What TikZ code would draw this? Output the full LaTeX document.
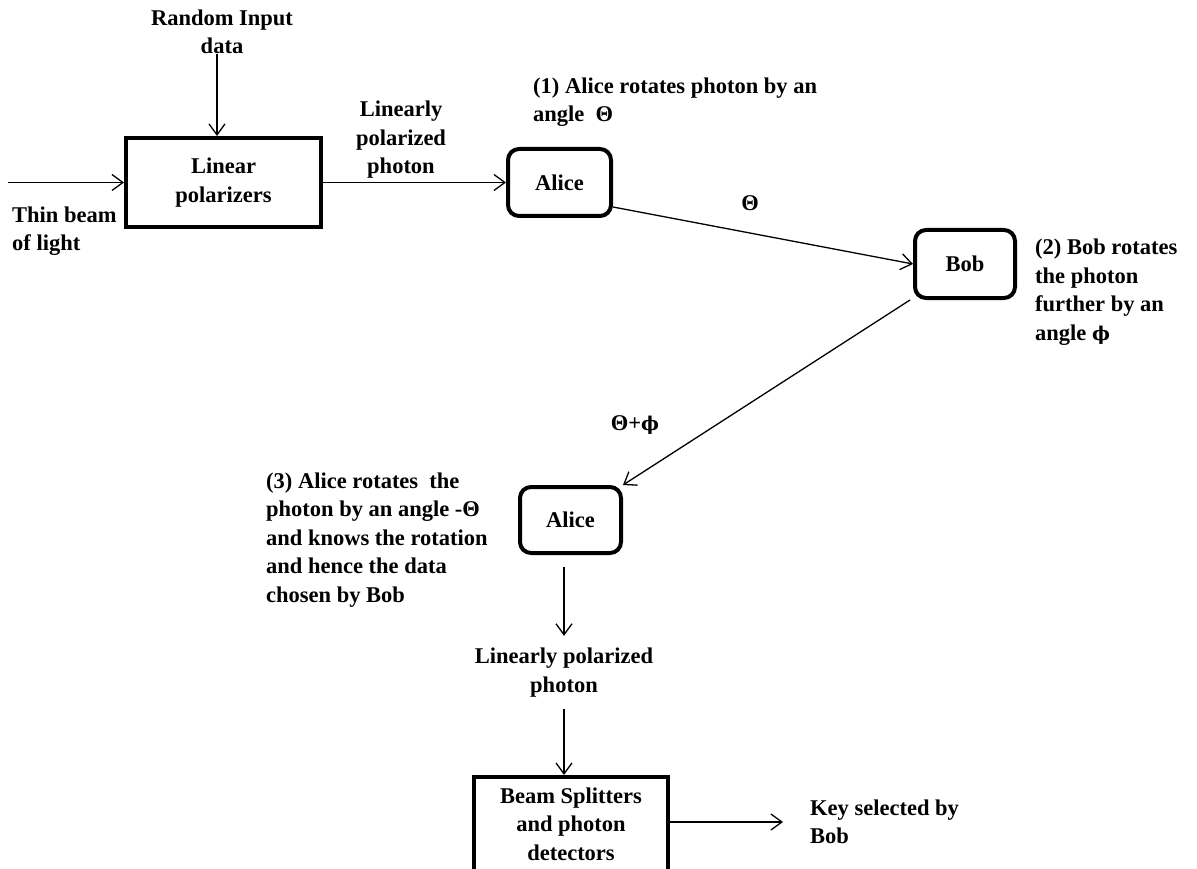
\documentclass[tikz,border=0pt]{standalone}
\usepackage{fontspec}
\setmainfont{Liberation Serif}
\newfontfamily\grkfont{DejaVu Serif}
\newcommand{\phisym}{{\grkfont\fontsize{19}{28.5}\selectfont ϕ}}
\usetikzlibrary{arrows.meta}
\usetikzlibrary{positioning}

\begin{document}
\begin{tikzpicture}[x=1pt,y=-1pt,
  txt/.style={font=\fontsize{22.5}{28.5}\selectfont\bfseries,inner sep=0pt},
  blk/.style={draw,rectangle,line width=4pt,font=\fontsize{22.5}{28.5}\selectfont\bfseries,align=center},
  rblk/.style={blk,rounded corners=11pt},
  conn/.style={line width=1.3pt,-{Straight Barb[length=11pt,width=16pt]}}]

  \useasboundingbox (0,0) rectangle (1197,869);

  \node [blk,minimum width=195pt,minimum height=89pt] (lin) at (223.5,182.5) {Linear\\polarizers};
  \coordinate (src) at (8,182.5);
  \node [txt,align=center] (rnd) at (222,32) {Random Input\\data};
  \node [txt,align=left,anchor=west] (thin) at (12,231) {Thin beam\\of light};
  \node [txt,align=center] (lpol1) at (401,140) {Linearly\\polarized\\photon};

  \node [rblk,minimum width=103pt,minimum height=67pt] (alice1) at (559.5,182.5) {Alice};
  \node [txt,align=left,anchor=west] (step1) at (533,102) {(1) Alice rotates photon by an\\angle\ \ Θ};
  \node [txt] (th1) at (750,203) {Θ};

  \node [rblk,minimum width=100pt,minimum height=68pt] (bob) at (965,264) {Bob};
  \node [txt,align=left,anchor=west] (step2) at (1035,292) {(2) Bob rotates\\the photon\\further by an\\angle \phisym};
  \node [txt] (th2) at (635,425) {Θ+\phisym};

  \node [rblk,minimum width=101pt,minimum height=66pt] (alice2) at (570.5,520) {Alice};
  \node [txt,align=left,anchor=west] (step3) at (266,540) {(3) Alice rotates\ \ the\\photon by an angle -Θ\\and knows the rotation\\and hence the data\\chosen by Bob};

  \node [txt,align=center,inner sep=12pt] (lpol2) at (564,672.5) {Linearly polarized\\photon};
  \node [blk,minimum width=194pt,minimum height=94pt] (split) at (571,824) {Beam Splitters\\and photon\\detectors};
  \node [txt,align=left,anchor=west] (key) at (810,822) {Key selected by\\Bob};

  \path [conn]
    (src) edge (lin)
    ([xshift=-5pt]rnd.south) edge ([xshift=-6.5pt]lin.north)
    (lin) edge (alice1);

  \path [conn]
    ([yshift=-24.5pt]alice1.east) edge (bob.west)
    ([xshift=-3pt]bob.south west) edge (alice2.north east);

  \path [conn]
    (alice2.south -| lpol2.north) edge [shorten <=12pt] (lpol2.north)
    (lpol2.south) edge (lpol2.south |- split.north)
    (split.east |- key.west) edge [shorten >=27pt] (key.west);

\end{tikzpicture}
\end{document}
